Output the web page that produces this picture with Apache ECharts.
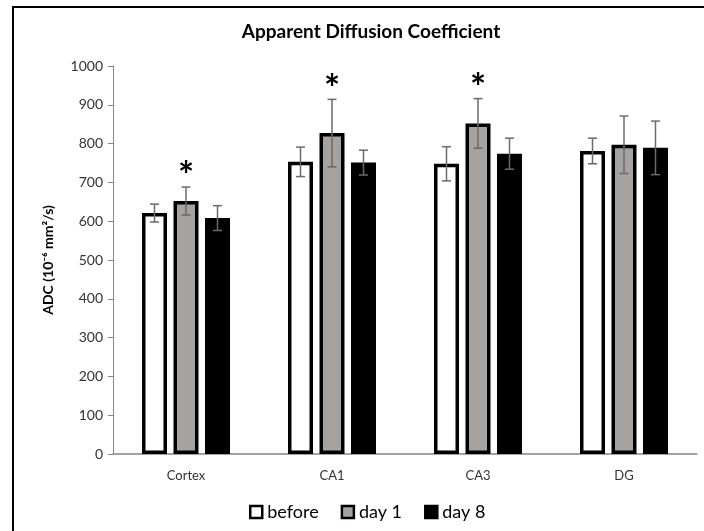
<!DOCTYPE html>
<html>
<head>
<meta charset="utf-8">
<script src="https://cdn.jsdelivr.net/npm/echarts@6/dist/echarts.min.js"></script>
<style>
  html, body { margin: 0; padding: 0; background: #fff; }
  #chart { width: 704px; height: 531px; }
</style>
</head>
<body>
<div id="chart"></div>
<script>
const categories = ["Cortex", "CA1", "CA3", "DG"];
const seriesNames = ["before", "day 1", "day 8"];
const before = [621, 753, 748, 781];
const beforeErr = [23, 38, 44, 33];
const day1 = [652, 827, 852, 797];
const day1Err = [36, 87, 64, 74];
const day8 = [608, 751, 774, 789];
const day8Err = [32, 32, 40, 69];
const day1Sig = [true, true, true, false];
const yTicks = { min: 0, max: 1000, interval: 100 };

const FONT = "Lato";
const BAR_W = 25;
const BAR_GAP = 0.26;
const step = BAR_W * (1 + BAR_GAP);
const fills = ["#ffffff", "#a6a2a0", "#000000"];
const values = [before, day1, day8];
const errs = [beforeErr, day1Err, day8Err];

const chart = echarts.init(document.getElementById("chart"));

const errorSeries = (k) => ({
  type: "custom",
  name: seriesNames[k] + " err",
  z: 5,
  data: values[k].map((v, i) => [i, v, errs[k][i], k === 1 && day1Sig[i] ? 1 : 0]),
  renderItem: (params, api) => {
    const i = api.value(0);
    const hi = api.coord([i, api.value(1) + api.value(2)]);
    const lo = api.coord([i, api.value(1) - api.value(2)]);
    const x = hi[0] + (k - 1) * step;
    const cap = 4.5;
    const st = { stroke: "#6a6a6a", lineWidth: 1.5 };
    const children = [
      { type: "line", shape: { x1: x, y1: hi[1], x2: x, y2: lo[1] }, style: st },
      { type: "line", shape: { x1: x - cap, y1: hi[1], x2: x + cap, y2: hi[1] }, style: st },
      { type: "line", shape: { x1: x - cap, y1: lo[1], x2: x + cap, y2: lo[1] }, style: st }
    ];
    if (api.value(3)) {
      children.push({
        type: "text",
        style: {
          text: "*", x: x, y: hi[1] + 9, align: "center", verticalAlign: "bottom",
          fill: "#000", font: "bold 38px " + FONT
        }
      });
    }
    return { type: "group", children };
  }
});

chart.setOption({
  animation: false,
  backgroundColor: "#fff",
  graphic: [{
    type: "rect", z: -10, silent: true,
    shape: { x: 13, y: 7, width: 800, height: 600 },
    style: { fill: "none", stroke: "#000", lineWidth: 2 }
  }],
  title: {
    text: "Apparent Diffusion Coefficient",
    left: 366, top: 17, textAlign: "center",
    textStyle: { fontFamily: FONT, fontSize: 19, fontWeight: "bold", color: "#000" }
  },
  legend: {
    data: seriesNames,
    left: 244, bottom: 5,
    icon: "rect", itemWidth: 12, itemHeight: 12, itemGap: 22,
    itemStyle: { borderColor: "#000", borderWidth: 2.5 },
    textStyle: { fontFamily: FONT, fontSize: 18, color: "#000" }
  },
  grid: { left: 113, right: 7, top: 66, bottom: 77 },
  xAxis: {
    type: "category",
    data: categories,
    axisLine: { lineStyle: { color: "#868686", width: 1.5 } },
    axisTick: { show: false },
    axisLabel: { fontFamily: FONT, fontSize: 13, color: "#333", margin: 15 }
  },
  yAxis: {
    type: "value",
    min: yTicks.min, max: yTicks.max, interval: yTicks.interval,
    name: "ADC (10\u207B\u2076 mm\u00B2/s)",
    nameLocation: "middle", nameGap: 58,
    nameTextStyle: { fontFamily: FONT, fontSize: 14, fontWeight: "bold", color: "#000" },
    axisLine: { show: true, lineStyle: { color: "#868686", width: 1 } },
    axisTick: { show: true, length: 5, lineStyle: { color: "#868686" } },
    axisLabel: { fontFamily: FONT, fontSize: 14, color: "#333", margin: 10, formatter: (v) => String(v) },
    splitLine: { show: false }
  },
  series: [
    ...seriesNames.map((name, k) => ({
      type: "bar",
      name,
      data: values[k],
      barWidth: BAR_W,
      barGap: (BAR_GAP * 100) + "%",
      itemStyle: { color: fills[k], borderColor: "#000", borderWidth: 3.5 }
    })),
    errorSeries(0), errorSeries(1), errorSeries(2)
  ]
});
</script>
</body>
</html>
